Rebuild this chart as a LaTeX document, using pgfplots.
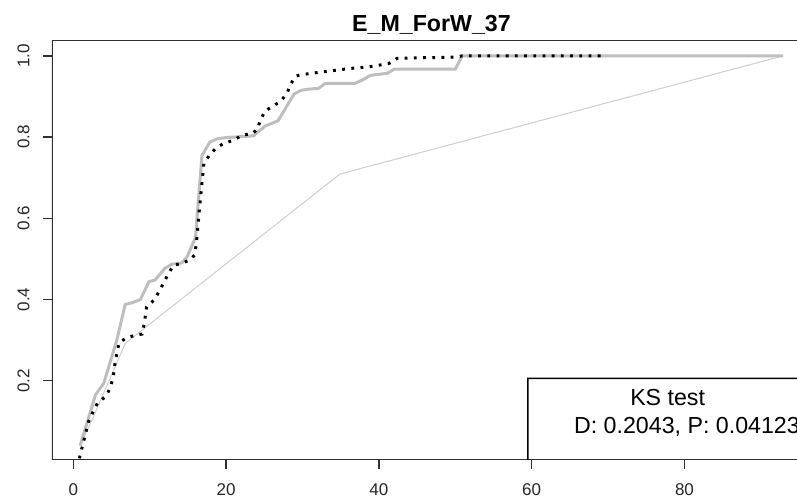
\documentclass[border=0pt]{standalone}
\usepackage{pgfplots}
\pgfplotsset{compat=1.18}
\usepackage{fontspec}
\setmainfont{Liberation Sans}
\definecolor{gthick}{RGB}{190,190,190}
\definecolor{gthin}{RGB}{205,205,205}
\definecolor{axcol}{RGB}{50,50,50}
\begin{document}
\begin{tikzpicture}
\path (0,0) rectangle (398.5pt,249pt);
\begin{axis}[
  name=ax,
  at={(26pt,19pt)}, anchor=south west,
  scale only axis, width=372.5pt, height=210pt,
  xmin=-2.78, xmax=94.73, ymin=0.005, ymax=1.039,
  axis line style={draw=none},
  tick style={axcol, line width=0.7pt},
  tick pos=left, tick align=outside, major tick length=4.5pt,
  xtick={0,20,40,60,80},
  ytick={0.2,0.4,0.6,0.8,1.0},
  xticklabel shift=4pt,
  yticklabel shift=3.2pt,
  /pgf/number format/assume math mode=true,
  tick label style={font=\fontsize{8.5}{10}\selectfont, text=black!85},
  yticklabel style={rotate=90, anchor=south, /pgf/number format/.cd, fixed, fixed zerofill, precision=1},
  xticklabel style={/pgf/number format/.cd, fixed, precision=0},
]
% thin light line
\addplot[gthin, line width=0.5pt] coordinates {
(0.9,0.04) (2.45,0.103) (6.8,0.292) (34.9,0.709) (92.9,1.0)
};
% thick gray line
\addplot[gthick, line width=1.5pt, line join=round] coordinates {
(0.9,0.04) (2.9,0.165) (4.0,0.194) (5.7,0.30) (6.8,0.388) (7.7,0.392) (8.8,0.40)
(9.9,0.444) (10.7,0.448) (12.0,0.477) (12.9,0.487) (14.2,0.49) (14.9,0.505)
(16.0,0.553) (16.85,0.755) (17.9,0.788) (18.9,0.796) (20.1,0.799) (23.6,0.803)
(24.0,0.81) (25.1,0.827) (26.8,0.84) (28.9,0.906) (29.8,0.915) (30.8,0.918)
(32.1,0.92) (33.0,0.932) (36.8,0.932) (37.8,0.94) (38.9,0.952) (41.1,0.957)
(42.0,0.967) (50.0,0.967) (50.9,1.0) (92.9,1.0)
};
% dotted black line
\addplot[black, line width=1.5pt, dash pattern=on 1.4pt off 3.2pt] coordinates {
(0.8,0.009) (2.0,0.099) (2.6,0.124) (3.2,0.146) (4.3,0.162) (4.8,0.181) (5.2,0.206)
(5.5,0.247) (6.0,0.294) (7.0,0.306) (8.1,0.312) (9.0,0.315) (9.3,0.341) (9.6,0.382)
(10.6,0.399) (11.3,0.422) (11.9,0.444) (12.5,0.465) (13.1,0.484) (14.2,0.489)
(15.3,0.498) (15.9,0.51) (16.05,0.53) (16.2,0.555) (16.5,0.62) (17.1,0.735)
(17.85,0.756) (18.8,0.775) (19.9,0.786) (21.0,0.792) (22.1,0.805) (23.4,0.808)
(24.1,0.819) (24.5,0.842) (25.1,0.864) (26.2,0.877) (27.2,0.889) (28.0,0.909)
(28.5,0.932) (29.2,0.951) (30.4,0.955) (32.8,0.961) (36.3,0.969) (38.7,0.973)
(41.3,0.981) (42.4,0.994) (50.2,0.997) (50.9,1.0) (69.8,1.0)
};
% axis frame (right side lies beyond the picture)
\draw[axcol, line width=0.7pt] (rel axis cs:1,1) -- (rel axis cs:0,1) -- (rel axis cs:0,0) -- (rel axis cs:1,0);
% KS test box
\draw[draw=black, line width=0.7pt] (rel axis cs:1,0.1943) -- (axis cs:59.5,0.206) -- (axis cs:59.5,0.005);
\node[anchor=base, font=\fontsize{11.6}{14}\selectfont] at (axis cs:77.8,0.138) {KS test};
\begin{pgfinterruptboundingbox}
\begin{scope}
\clip (rel axis cs:0,0) rectangle (rel axis cs:1,1);
\node[anchor=base west, inner sep=0pt, font=\fontsize{11.6}{14}\selectfont] at (axis cs:65.5,0.0704) {D: 0.2043, P: 0.04123};
\end{scope}
\end{pgfinterruptboundingbox}
\end{axis}
\node[anchor=base, font=\fontsize{11.6}{14}\selectfont\bfseries] at ([xshift=189.75pt, yshift=4.2pt]ax.north west) {E\_M\_ForW\_37};
\end{tikzpicture}
\end{document}
